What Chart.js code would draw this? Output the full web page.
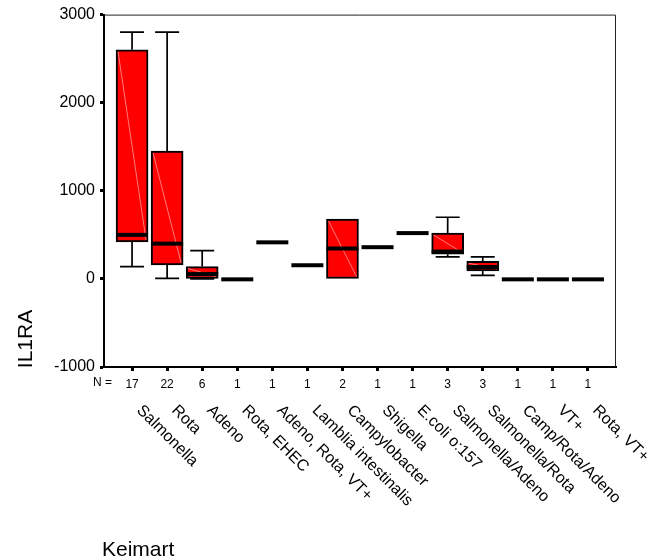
<!DOCTYPE html>
<html lang="de">
<head>
    <meta charset="UTF-8">
    <title>IL1RA nach Keimart</title>
    <script src="https://cdn.jsdelivr.net/npm/chart.js@4.4.3/dist/chart.umd.min.js"></script>
    <style>
        html, body { margin: 0; padding: 0; background: #fff; }
        #wrap { width: 653px; height: 560px; position: relative; }
    </style>
</head>
<body>
    <div id="wrap"><canvas id="chart"></canvas></div>

    <script>
        // Daten
        const categories = [
            'Salmonella', 'Rota', 'Adeno', 'Rota, EHEC', 'Adeno, Rota, VT+',
            'Lamblia intestinalis', 'Campylobacter', 'Shigella', 'E.coli o:157',
            'Salmonella/Adeno', 'Salmonella/Rota', 'Camp/Rota/Adeno', 'VT+', 'Rota, VT+'
        ];
        const counts = [17, 22, 6, 1, 1, 1, 2, 1, 1, 3, 3, 1, 1, 1];
        const whiskerLow  = [140, 5, 0, null, null, null, null, null, null, 250, 40, null, null, null];
        const q1          = [420, 160, 5, null, null, null, 5, null, null, 280, 90, null, null, null];
        const median      = [500, 400, 55, -5, 415, 155, 345, 360, 520, 310, 135, -5, -5, -5];
        const q3          = [2600, 1450, 140, null, null, null, 680, null, null, 520, 200, null, null, null];
        const whiskerHigh = [2800, 2800, 320, null, null, null, null, null, null, 700, 250, null, null, null];
        const yTicks = [-1000, 0, 1000, 2000, 3000];

        const FONT = 'Arial, "Liberation Sans", sans-serif';

        // Boxen als schwebende Balken
        const boxData = [];
        categories.forEach((c, i) => {
            if (q1[i] !== null && q3[i] !== null) {
                boxData.push({ x: i, y: [q1[i], q3[i]] });
            }
        });

        // Whisker, Mediane, Beschriftungen
        const boxplotPlugin = {
            id: 'boxplot',
            beforeDatasetsDraw(chart) {
                const ctx = chart.ctx;
                const xs = chart.scales.x, ys = chart.scales.y;
                ctx.save();
                ctx.strokeStyle = '#000';
                ctx.lineWidth = 1.7;
                categories.forEach((c, i) => {
                    const px = xs.getPixelForValue(i);
                    const pairs = [[whiskerHigh[i], q3[i]], [whiskerLow[i], q1[i]]];
                    pairs.forEach(([w, q]) => {
                        if (w === null || q === null || w === q) return;
                        const wy = ys.getPixelForValue(w), qy = ys.getPixelForValue(q);
                        ctx.beginPath();
                        ctx.moveTo(px, qy); ctx.lineTo(px, wy);
                        ctx.moveTo(px - 12, wy); ctx.lineTo(px + 12, wy);
                        ctx.stroke();
                    });
                });
                ctx.restore();
            },
            afterDatasetsDraw(chart) {
                const ctx = chart.ctx;
                const xs = chart.scales.x, ys = chart.scales.y;
                ctx.save();
                categories.forEach((c, i) => {
                    const px = xs.getPixelForValue(i);
                    // blasse Diagonale in der Box
                    if (q1[i] !== null) {
                        ctx.strokeStyle = 'rgba(255,170,170,0.9)';
                        ctx.lineWidth = 0.8;
                        ctx.beginPath();
                        ctx.moveTo(px - 14, ys.getPixelForValue(q3[i]) + 2);
                        ctx.lineTo(px + 14, ys.getPixelForValue(q1[i]) - 2);
                        ctx.stroke();
                    }
                    // Median
                    const my = ys.getPixelForValue(median[i]);
                    ctx.fillStyle = '#000';
                    ctx.fillRect(px - 16, my - 2, 32, 4);
                });

                const a = chart.chartArea;
                // Rahmen oben/rechts
                ctx.strokeStyle = '#222';
                ctx.lineWidth = 1;
                ctx.beginPath();
                ctx.moveTo(a.left, a.top + 0.5); ctx.lineTo(a.right - 0.5, a.top + 0.5);
                ctx.lineTo(a.right - 0.5, a.bottom);
                ctx.stroke();
                ctx.restore();
            },
            afterDraw(chart) {
                const ctx = chart.ctx;
                const xs = chart.scales.x;
                const a = chart.chartArea;
                ctx.save();
                ctx.fillStyle = '#000';

                ctx.font = '12px ' + FONT;
                ctx.textAlign = 'right';
                ctx.textBaseline = 'middle';
                ctx.fillText('N =', 112, a.bottom + 16);

                ctx.font = '16px ' + FONT;
                ctx.textAlign = 'left';
                ctx.textBaseline = 'alphabetic';
                categories.forEach((c, i) => {
                    const px = xs.getPixelForValue(i);
                    ctx.save();
                    ctx.translate(px + 4, a.bottom + 44);
                    ctx.rotate(Math.PI / 4);
                    ctx.fillText(c, 0, 0);
                    ctx.restore();
                });

                ctx.font = '21px ' + FONT;
                ctx.fillText('Keimart', 102, 556);

                ctx.save();
                ctx.translate(32, 339);
                ctx.rotate(-Math.PI / 2);
                ctx.textAlign = 'center';
                ctx.fillText('IL1RA', 0, 0);
                ctx.restore();

                ctx.restore();
            }
        };

        new Chart(document.getElementById('chart'), {
            type: 'bar',
            data: {
                datasets: [{
                    data: boxData,
                    backgroundColor: '#ff0000',
                    borderColor: '#000',
                    borderWidth: 2,
                    borderSkipped: false,
                    barThickness: 32
                }]
            },
            options: {
                responsive: true,
                maintainAspectRatio: false,
                animation: false,
                layout: { padding: { top: 14, right: 37, left: 0, bottom: 0 } },
                plugins: {
                    legend: { display: false },
                    tooltip: { enabled: false }
                },
                scales: {
                    x: {
                        type: 'linear',
                        offset: false,
                        min: -0.8,
                        max: 13.8,
                        afterBuildTicks: (scale) => {
                            scale.ticks = categories.map((c, i) => ({ value: i }));
                        },
                        afterFit: (scale) => { scale.height = 193; },
                        grid: { offset: false, drawOnChartArea: false, tickLength: 4, tickWidth: 3, tickColor: '#000' },
                        border: { display: true, color: '#000', width: 2 },
                        ticks: {
                            autoSkip: false,
                            maxRotation: 0,
                            padding: 6,
                            color: '#000',
                            font: { size: 12, family: FONT },
                            callback: (v) => counts[v]
                        }
                    },
                    y: {
                        min: -1000,
                        max: 3000,
                        afterBuildTicks: (scale) => {
                            scale.ticks = yTicks.map(v => ({ value: v }));
                        },
                        afterFit: (scale) => { scale.width = 104; },
                        grid: { drawOnChartArea: false, tickLength: 4, tickWidth: 3, tickColor: '#000' },
                        border: { display: true, color: '#000', width: 2 },
                        ticks: {
                            padding: 5,
                            color: '#000',
                            font: { size: 16, family: FONT },
                            callback: (v) => String(v)
                        }
                    }
                }
            },
            plugins: [boxplotPlugin]
        });
    </script>
</body>
</html>
